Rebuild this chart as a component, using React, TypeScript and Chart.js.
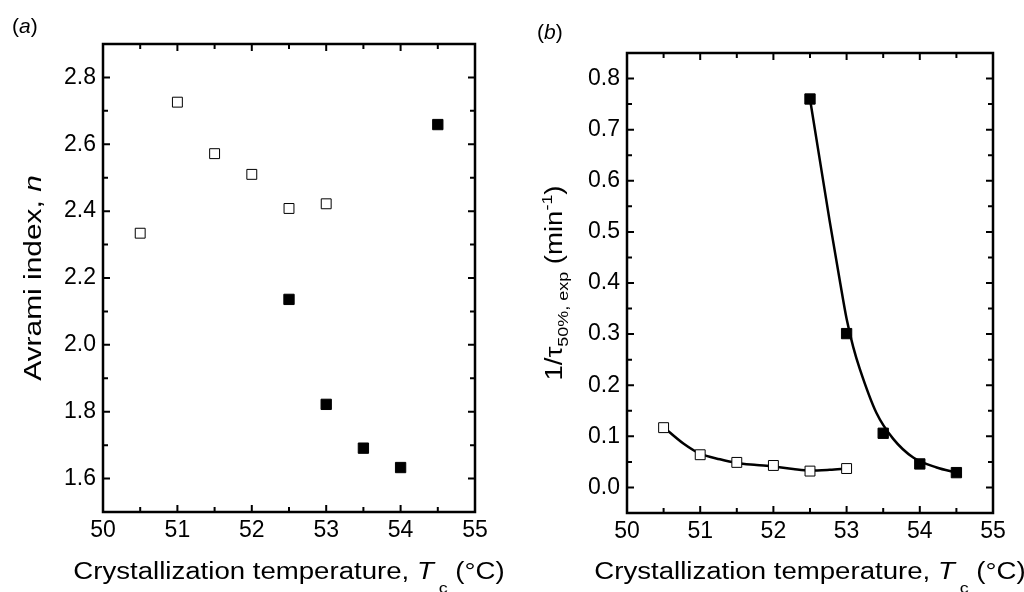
import React, { useEffect, useRef } from "react";
import { Chart, registerables } from "chart.js";

Chart.register(...registerables);

const FONT = "'Liberation Sans', Arial, Helvetica, sans-serif";
const W = 512;
const H = 592;

// Crystallization temperature axis, shared by both panels
const X_MIN = 50;
const X_MAX = 55;
const X_TICKS = [50, 51, 52, 53, 54, 55];
const X_MINOR = [50.5, 51.5, 52.5, 53.5, 54.5];

// (a) Avrami index
const A_Y_MIN = 1.5;
const A_Y_MAX = 2.9;
const A_Y_TICKS = [1.6, 1.8, 2.0, 2.2, 2.4, 2.6, 2.8];
const A_Y_MINOR = [1.7, 1.9, 2.1, 2.3, 2.5, 2.7];
const TC_OPEN = [50.5, 51, 51.5, 52, 52.5, 53];
const N_OPEN = [2.334, 2.726, 2.572, 2.51, 2.408, 2.422];
const TC_FILLED = [52.5, 53, 53.5, 54, 54.5];
const N_FILLED = [2.136, 1.822, 1.691, 1.633, 2.659];

// (b) Reciprocal crystallization half-time
const B_Y_MIN = -0.05;
const B_Y_MAX = 0.85;
const B_Y_TICKS = [0, 0.1, 0.2, 0.3, 0.4, 0.5, 0.6, 0.7, 0.8];
const B_Y_MINOR = [0.05, 0.15, 0.25, 0.35, 0.45, 0.55, 0.65, 0.75];
const RATE_OPEN = [0.117, 0.064, 0.049, 0.043, 0.032, 0.037];
const RATE_FILLED = [0.76, 0.301, 0.106, 0.046, 0.029];

// Fitted trend curves through the half-time data
const FIT_OPEN_T = [50.5, 50.77, 51.0, 51.27, 51.5, 51.77, 52.0, 52.27, 52.5, 52.77, 53.0];
const FIT_OPEN_V = [0.118, 0.086, 0.066, 0.055, 0.048, 0.044, 0.041, 0.036, 0.033, 0.0346, 0.037];
const FIT_FILLED_T = [52.5, 52.635, 52.77, 52.907, 53.0, 53.09, 53.18, 53.41, 53.637, 53.91, 54.23, 54.5];
const FIT_FILLED_V = [0.76, 0.64, 0.52, 0.405, 0.33, 0.275, 0.232, 0.145, 0.095, 0.0585, 0.039, 0.029];

type Seg = { t: string; italic?: boolean; sub?: boolean; sup?: boolean; drop?: number };

const X_TITLE: Seg[] = [
  { t: "Crystallization temperature, " },
  { t: "T", italic: true },
  { t: " c", sub: true, drop: 0.62 },
  { t: " (°C)" },
];
const A_Y_TITLE: Seg[] = [{ t: "Avrami index, " }, { t: "n", italic: true }];
const B_Y_TITLE: Seg[] = [
  { t: "1/τ" },
  { t: "50%, exp", sub: true, drop: 0.25 },
  { t: " (min" },
  { t: "-1", sup: true },
  { t: ")" },
];

function toPoints(xs: number[], ys: number[]) {
  return xs.map((x, i) => ({ x, y: ys[i] }));
}

function drawRich(
  ctx: CanvasRenderingContext2D,
  segs: Seg[],
  size: number,
  x: number,
  y: number,
  opts: { rotated?: boolean; stretch?: number; align?: "left" | "center" }
) {
  const stretch = opts.stretch ?? 1;
  ctx.save();
  ctx.translate(x, y);
  if (opts.rotated) ctx.rotate(-Math.PI / 2);
  ctx.scale(stretch, 1);
  const items = segs.map((s) => {
    const fs = s.sub || s.sup ? size * 0.65 : size;
    const font = `${s.italic ? "italic " : ""}${fs}px ${FONT}`;
    ctx.font = font;
    return { s, font, w: ctx.measureText(s.t).width };
  });
  const total = items.reduce((a, b) => a + b.w, 0);
  let cx = opts.align === "left" ? 0 : -total / 2;
  ctx.fillStyle = "#000";
  ctx.textAlign = "left";
  ctx.textBaseline = "alphabetic";
  for (const it of items) {
    ctx.font = it.font;
    const dy = it.s.sub ? size * (it.s.drop ?? 0.25) : it.s.sup ? -size * 0.42 : 0;
    ctx.fillText(it.s.t, cx, dy);
    cx += it.w;
  }
  ctx.restore();
}

type PanelSpec = {
  id: string;
  area: { left: number; top: number; right: number; bottom: number };
  yMin: number;
  yMax: number;
  yTicks: number[];
  yMinor: number[];
  yTitle: Seg[];
  yTitleX: number;
  yTitleStretch: number;
  label: Seg[];
  labelPos: { x: number; y: number };
  datasets: any[];
};

const openMarker = {
  showLine: false,
  pointStyle: "rect",
  pointRadius: 7,
  pointBackgroundColor: "#fff",
  pointBorderColor: "#000",
  pointBorderWidth: 1,
  order: 0,
};
const filledMarker = {
  showLine: false,
  pointStyle: "rect",
  pointRadius: 7.3,
  pointBackgroundColor: "#000",
  pointBorderColor: "#000",
  pointBorderWidth: 1,
  order: 0,
};
const fitLine = {
  showLine: true,
  pointRadius: 0,
  borderColor: "#000",
  borderWidth: 2.5,
  cubicInterpolationMode: "monotone",
  fill: false,
  order: 5,
};

const PANEL_A: PanelSpec = {
  id: "a",
  area: { left: 103, top: 44, right: 475, bottom: 512 },
  yMin: A_Y_MIN,
  yMax: A_Y_MAX,
  yTicks: A_Y_TICKS,
  yMinor: A_Y_MINOR,
  yTitle: A_Y_TITLE,
  yTitleX: 41,
  yTitleStretch: 1.3,
  label: [{ t: "(" }, { t: "a", italic: true }, { t: ")" }],
  labelPos: { x: 12, y: 33 },
  datasets: [
    { ...openMarker, data: toPoints(TC_OPEN, N_OPEN) },
    { ...filledMarker, data: toPoints(TC_FILLED, N_FILLED) },
  ],
};

const PANEL_B: PanelSpec = {
  id: "b",
  area: { left: 115, top: 53, right: 481, bottom: 513 },
  yMin: B_Y_MIN,
  yMax: B_Y_MAX,
  yTicks: B_Y_TICKS,
  yMinor: B_Y_MINOR,
  yTitle: B_Y_TITLE,
  yTitleX: 50,
  yTitleStretch: 1.2,
  label: [{ t: "(" }, { t: "b", italic: true }, { t: ")" }],
  labelPos: { x: 25, y: 39 },
  datasets: [
    { ...fitLine, data: toPoints(FIT_OPEN_T, FIT_OPEN_V) },
    { ...fitLine, data: toPoints(FIT_FILLED_T, FIT_FILLED_V) },
    { ...openMarker, data: toPoints(TC_OPEN, RATE_OPEN) },
    { ...filledMarker, data: toPoints(TC_FILLED, RATE_FILLED) },
  ],
};

function makeConfig(p: PanelSpec): any {
  const decor = {
    id: "decor" + p.id,
    afterDatasetsDraw(chart: any) {
      const { ctx, chartArea: a, scales } = chart;
      const xs = scales.x;
      const ys = scales.y;
      ctx.save();
      ctx.strokeStyle = "#000";
      ctx.lineCap = "butt";
      // inward tick marks on all four sides
      const xtick = (vals: number[], len: number) => {
        ctx.lineWidth = 2;
        for (const v of vals) {
          const px = xs.getPixelForValue(v);
          ctx.beginPath();
          ctx.moveTo(px, a.bottom);
          ctx.lineTo(px, a.bottom - len);
          ctx.moveTo(px, a.top);
          ctx.lineTo(px, a.top + len);
          ctx.stroke();
        }
      };
      const ytick = (vals: number[], len: number) => {
        ctx.lineWidth = 2;
        for (const v of vals) {
          const py = ys.getPixelForValue(v);
          ctx.beginPath();
          ctx.moveTo(a.left, py);
          ctx.lineTo(a.left + len, py);
          ctx.moveTo(a.right, py);
          ctx.lineTo(a.right - len, py);
          ctx.stroke();
        }
      };
      xtick(X_TICKS, 7);
      xtick(X_MINOR, 5);
      ytick(p.yTicks, 7);
      ytick(p.yMinor, 5);
      ctx.lineWidth = 2.5;
      ctx.strokeRect(a.left, a.top, a.right - a.left, a.bottom - a.top);
      ctx.restore();
    },
    afterDraw(chart: any) {
      const { ctx, chartArea: a } = chart;
      drawRich(ctx, X_TITLE, 23, (a.left + a.right) / 2, 579, { stretch: 1.2 });
      drawRich(ctx, p.yTitle, 23, p.yTitleX, (a.top + a.bottom) / 2, {
        rotated: true,
        stretch: p.yTitleStretch,
      });
      drawRich(ctx, p.label, 21, p.labelPos.x, p.labelPos.y, { align: "left" });
    },
  };

  return {
    type: "scatter",
    data: { datasets: p.datasets },
    options: {
      animation: false,
      responsive: false,
      layout: { padding: { left: 0, top: p.area.top, right: W - p.area.right, bottom: 0 } },
      plugins: { legend: { display: false }, tooltip: { enabled: false } },
      scales: {
        x: {
          type: "linear",
          min: X_MIN,
          max: X_MAX,
          grid: { display: false, drawTicks: false },
          border: { display: false },
          ticks: {
            autoSkip: false,
            maxRotation: 0,
            padding: 5,
            color: "#000",
            font: { family: FONT, size: 23 },
            callback: (v: number) => String(v),
          },
          afterBuildTicks: (s: any) => {
            s.ticks = X_TICKS.map((value) => ({ value }));
          },
          afterFit: (s: any) => {
            s.height = H - p.area.bottom;
          },
        },
        y: {
          type: "linear",
          min: p.yMin,
          max: p.yMax,
          grid: { display: false, drawTicks: false },
          border: { display: false },
          ticks: {
            autoSkip: false,
            padding: 7,
            color: "#000",
            font: { family: FONT, size: 23 },
            callback: (v: number) => Number(v).toFixed(1),
          },
          afterBuildTicks: (s: any) => {
            s.ticks = p.yTicks.map((value) => ({ value }));
          },
          afterFit: (s: any) => {
            s.width = p.area.left;
          },
        },
      },
    },
    plugins: [decor],
  };
}

function Panel({ spec }: { spec: PanelSpec }) {
  const ref = useRef<HTMLCanvasElement>(null);
  useEffect(() => {
    if (!ref.current) return;
    const chart = new Chart(ref.current, makeConfig(spec));
    return () => chart.destroy();
  }, [spec]);
  return (
    <canvas
      ref={ref}
      width={W}
      height={H}
      style={{ display: "block", width: W, height: H }}
    />
  );
}

export default function App() {
  return (
    <div
      style={{
        position: "fixed",
        left: 0,
        top: 0,
        width: 1024,
        height: 592,
        background: "#fff",
        display: "flex",
        overflow: "hidden",
      }}
    >
      <Panel spec={PANEL_A} />
      <Panel spec={PANEL_B} />
    </div>
  );
}
